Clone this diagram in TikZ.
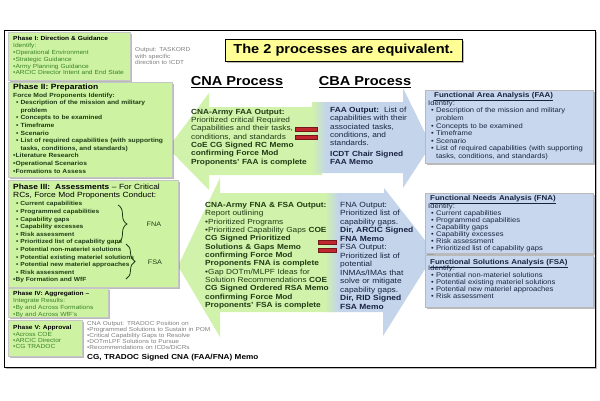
\documentclass[tikz,border=0pt]{standalone}
\usepackage{fontspec}
\setmainfont{Liberation Sans}[FakeStretch=1.12]
\usepackage{xcolor}
\usetikzlibrary{arrows.meta, positioning, calc, shadows, decorations.pathreplacing}

\definecolor{phasegreen}{RGB}{205,243,162}
\definecolor{cnagreen}{RGB}{208,242,170}
\definecolor{cbablue}{RGB}{195,212,235}
\definecolor{anablue}{RGB}{200,215,237}
\definecolor{notegold}{RGB}{255,255,150}
\definecolor{eqred}{RGB}{192,38,45}
\definecolor{leafgreen}{RGB}{60,130,40}
\definecolor{darkgreen}{RGB}{30,60,20}
\definecolor{navytext}{RGB}{25,35,65}

\pgfdeclarehorizontalshading{cbafade}{100bp}{color(0bp)=(cnagreen); color(25bp)=(cnagreen); color(31bp)=(cbablue); color(100bp)=(cbablue)}

\newcommand{\bu}{\hspace*{3pt}\textbullet\ }
\newcommand{\bn}{\hspace*{3pt}\phantom{\textbullet\ }}

\begin{document}
\begin{tikzpicture}[x=1pt, y=-1pt,
    boxshadow/.style={drop shadow={shadow xshift=1.8pt, shadow yshift=-1.8pt, opacity=.45, fill=black!60}},
    phase/.style={draw=gray!45, fill=phasegreen, boxshadow, anchor=north west, inner sep=0pt},
    ana/.style={draw=gray!55, fill=anablue, boxshadow, anchor=north west, inner sep=0pt},
    txt/.style={anchor=north west, inner sep=0pt, align=left, text width=190pt},
    eqbar/.style={fill=eqred, draw=eqred!60!black, line width=0.3pt},
    brc/.style={decorate, decoration={brace, amplitude=9pt}, thick, darkgreen}
]
\useasboundingbox (0,0) rectangle (600,400);
\fill[white] (0,0) rectangle (600,400);

% outer frame
\node[draw, line width=1.3pt, fill=white, boxshadow, anchor=north west, inner sep=0pt,
      minimum width=591pt, minimum height=337pt] (frame) at (4,30) {};

% title and headings
\node[draw=black, line width=0.8pt, fill=notegold, boxshadow, minimum width=237pt, minimum height=22pt,
      font=\fontsize{13}{15}\selectfont\bfseries] (title) at (343.5,50) {The 2 processes are equivalent.};
\node[font=\fontsize{13}{15}\selectfont\bfseries] (cnahead) at (237,82) {\underline{CNA Process}};
\node[font=\fontsize{13}{15}\selectfont\bfseries] (cbahead) at (365,82) {\underline{CBA Process}};

% big arrows
\path[fill=cnagreen] (168,148) -- (209,93) -- (209,107) -- (322,107) -- (322,175) -- (209,175) -- (209,190) -- cycle;
\path[fill=cnagreen] (178,266) -- (220,178) -- (220,193) -- (335,193) -- (335,312) -- (220,312) -- (220,337) -- cycle;
\shade[shading=cbafade] (312,102) -- (403,102) -- (403,88) -- (431,145) -- (403,188) -- (403,173) -- (312,173) -- cycle;
\shade[shading=cbafade] (325,193) -- (384,193) -- (384,188) -- (435,253) -- (383,336) -- (383,312) -- (325,312) -- cycle;

% equal signs
\path[eqbar] (295,127) rectangle (317,131);
\path[eqbar] (295,135) rectangle (317,139);
\path[eqbar] (318,240) rectangle (336,244);
\path[eqbar] (318,248) rectangle (336,252);

% arrow texts
\node[txt, font=\fontsize{7.4}{8.3}\selectfont, text=darkgreen] (cnafaa) at (191,109)
  {\textbf{CNA-Army FAA Output:}\\ Prioritized critical Required\\ Capabilities and their tasks,\\ conditions, and standards\\
   \textbf{CoE CG Signed RC Memo}\\ \textbf{confirming Force Mod}\\ \textbf{Proponents' FAA is complete}};
\node[txt, font=\fontsize{7.4}{8.33}\selectfont, text=darkgreen] (cnafna) at (205,202)
  {\textbf{CNA-Army FNA \& FSA Output:}\\ Report outlining\\ \textbullet Prioritized Programs\\ \textbullet Prioritized Capability Gaps \textbf{COE}\\
   \textbf{CG Signed Prioritized}\\ \textbf{Solutions \& Gaps Memo}\\ \textbf{confirming Force Mod}\\ \textbf{Proponents FNA is complete}\\
   \textbullet Gap DOTm/MLPF Ideas for\\ Solution Recommendations \textbf{COE}\\ \textbf{CG Signed Ordered RSA Memo}\\
   \textbf{confirming Force Mod}\\ \textbf{Proponents' FSA is complete}};
\node[txt, font=\fontsize{7.4}{8.3}\selectfont, text=navytext] (cbafaa) at (330,107)
  {\textbf{FAA Output:}\ \ List of\\ capabilities with their\\ associated tasks,\\ conditions, and\\ standards.\\[2pt]
   \textbf{ICDT Chair Signed}\\ \textbf{FAA Memo}};
\node[txt, font=\fontsize{7.5}{8.5}\selectfont, text=navytext] (cbafna) at (340,202)
  {FNA Output:\\ Prioritized list of\\ capability gaps.\\ \textbf{Dir, ARCIC Signed}\\ \textbf{FNA Memo}\\ FSA Output:\\
   Prioritized list of\\ potential\\ INMAs/IMAs that\\ solve or mitigate\\ capability gaps.\\ \textbf{Dir, RID Signed}\\ \textbf{FSA Memo}};

% phase boxes
\node[phase, minimum width=122pt, minimum height=48pt] (ph1) at (8,32) {};
\node[txt, font=\fontsize{5.9}{6.8}\selectfont] (ph1txt) at (13,36.5)
  {\textbf{Phase I: Direction \& Guidance}\\ \color{leafgreen} Identify:\\ \textbullet Operational Environment\\ \textbullet Strategic Guidance\\
   \textbullet Army Planning Guidance\\ \textbullet ARCIC Director Intent and End State};
\node[txt, font=\fontsize{5.8}{6.5}\selectfont, text=gray] (taskord) at (135,47.5) {Output: TASKORD\\ with specific\\ direction to ICDT};

\node[phase, minimum width=164pt, minimum height=95pt] (ph2) at (8,82) {};
\node[txt, font=\fontsize{7.6}{8}\selectfont\bfseries] (ph2head) at (13,84) {Phase II: Preparation};
\node[txt, font=\fontsize{6}{7.6}\selectfont\bfseries, text=darkgreen] (ph2txt) at (13,92.5)
  {Force Mod Proponents Identify:\\ \bu Description of the mission and military\\ \bn problem\\ \bu Concepts to be examined\\
   \bu Timeframe\\ \bu Scenario\\ \bu List of required capabilities (with supporting\\ \bn tasks, conditions, and standards)\\
   \textbullet Literature Research\\ \textbullet Operational Scenarios\\ \textbullet Formations to Assess};

\node[phase, minimum width=170pt, minimum height=107pt] (ph3) at (8,180) {};
\node[txt, font=\fontsize{7.5}{8}\selectfont] (ph3head) at (13,184)
  {\textbf{Phase III:\ \ Assessments} -- For Critical\\ RCs, Force Mod Proponents Conduct:};
\node[txt, font=\fontsize{5.9}{7.6}\selectfont\bfseries, text=darkgreen] (ph3txt) at (13,201.5)
  {\bu Current capabilities\\ \bu Programmed capabilities\\ \bu Capability gaps\\ \bu Capability excesses\\ \bu Risk assessment\\
   \bu Prioritized list of capability gaps\\ \bu Potential non-materiel solutions\\ \bu Potential existing materiel solutions\\
   \bu Potential new materiel approaches\\ \bu Risk assessment\\ \textbullet By Formation and WfF};
\coordinate (fnatop) at (118,205);
\coordinate (fnabot) at (118,243);
\coordinate (fsatop) at (126,244);
\coordinate (fsabot) at (126,279);
\node[font=\fontsize{6.5}{7}\selectfont, text=darkgreen] (fna) at (154,224) {FNA};
\node[font=\fontsize{6.5}{7}\selectfont, text=darkgreen] (fsa) at (155,262) {FSA};
\draw[brc] (fnatop) -- (fnabot);
\draw[brc] (fsatop) -- (fsabot);

\node[phase, minimum width=100pt, minimum height=29pt] (ph4) at (8,288) {};
\node[txt, font=\fontsize{5.9}{6.7}\selectfont] (ph4txt) at (13,291.5)
  {\textbf{Phase IV: Aggregation --}\\ \color{leafgreen} Integrate Results:\\ \textbullet By and Across Formations\\ \textbullet By and Across WfF's};

\node[phase, minimum width=74pt, minimum height=36pt] (ph5) at (8,320) {};
\node[txt, font=\fontsize{5.9}{6.3}\selectfont] (ph5txt) at (13,325.5)
  {\textbf{Phase V: Approval}\\ \color{leafgreen} \textbullet Across COE\\ \textbullet ARCIC Director\\ \textbullet CG TRADOC};

\node[txt, font=\fontsize{5.8}{6}\selectfont, text=gray] (cnaout) at (87,321.5)
  {CNA Output: TRADOC Position on\\ \textbullet Programmed Solutions to Sustain in POM\\ \textbullet Critical Capability Gaps to Resolve\\
   \textbullet DOTmLPF Solutions to Pursue\\ \textbullet Recommendations on ICDs/DiCRs};
\node[txt, font=\fontsize{7.3}{8}\selectfont\bfseries] (cnamemo) at (87,354) {CG, TRADOC Signed CNA (FAA/FNA) Memo};

% analysis boxes
\node[ana, minimum width=168pt, minimum height=73pt] (faa) at (425,90) {};
\node[txt, font=\fontsize{7.1}{8}\selectfont\bfseries, text=navytext] (faahead) at (434,92) {\underline{Functional Area Analysis (FAA)}};
\node[txt, font=\fontsize{6.8}{7.6}\selectfont, text=navytext] (faatxt) at (428,100.2)
  {Identify:\\ \bu Description of the mission and military\\ \bn problem\\ \bu Concepts to be examined\\ \bu Timeframe\\ \bu Scenario\\
   \bu List of required capabilities (with supporting\\ \bn tasks, conditions, and standards)};

\node[ana, minimum width=168pt, minimum height=60pt] (fnabox) at (425,193) {};
\node[txt, font=\fontsize{7.1}{8}\selectfont\bfseries, text=navytext] (fnahead) at (430,195) {\underline{Functional Needs Analysis (FNA)}};
\node[txt, font=\fontsize{6.8}{7}\selectfont, text=navytext] (fnatxt) at (428,203.2)
  {Identify:\\ \bu Current capabilities\\ \bu Programmed capabilities\\ \bu Capability gaps\\ \bu Capability excesses\\ \bu Risk assessment\\
   \bu Prioritized list of capability gaps};

\node[ana, minimum width=168pt, minimum height=52pt] (fsabox) at (425,255) {};
\node[txt, font=\fontsize{7.1}{8}\selectfont\bfseries, text=navytext] (fsahead) at (430,259) {\underline{Functional Solutions Analysis (FSA)}};
\node[txt, font=\fontsize{6.8}{7}\selectfont, text=navytext] (fsatxt) at (428,265.2)
  {Identify:\\ \bu Potential non-materiel solutions\\ \bu Potential existing materiel solutions\\ \bu Potential new materiel approaches\\
   \bu Risk assessment};
\end{tikzpicture}
\end{document}
